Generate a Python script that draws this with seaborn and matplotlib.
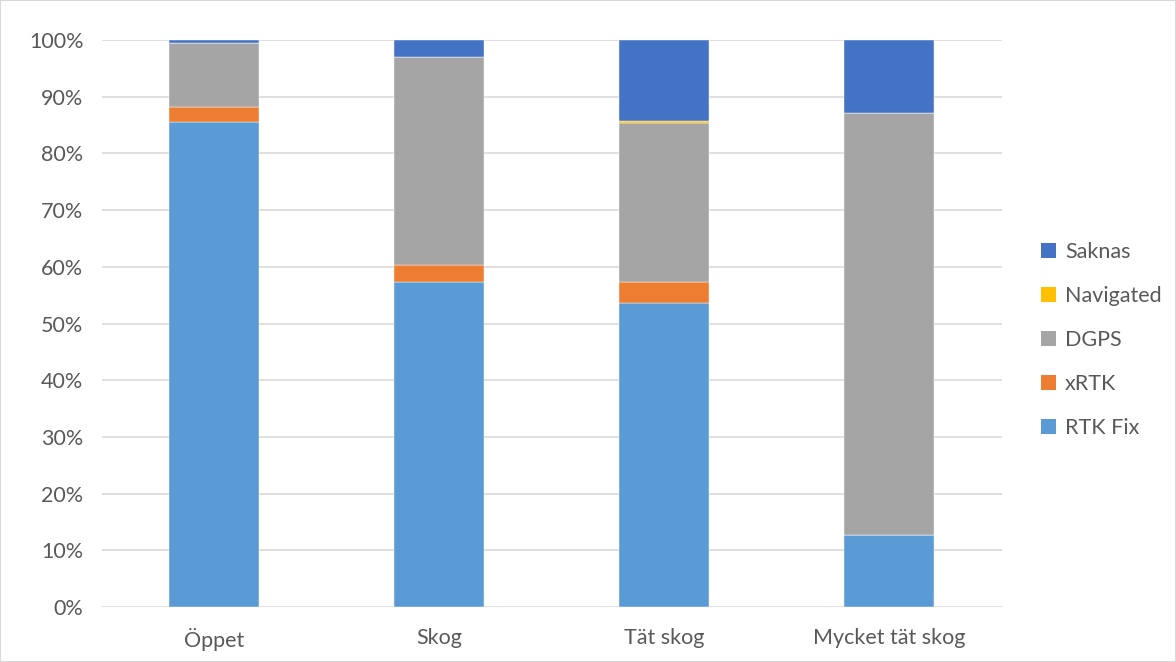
import numpy as np
import pandas as pd
import seaborn as sns
import matplotlib.pyplot as plt
from matplotlib.patches import Patch, Rectangle
from matplotlib.ticker import PercentFormatter

# andelar (%) per miljö
kategorier = ["Öppet", "Skog", "Tät skog", "Mycket tät skog"]
rtk_fix   = [85.5, 57.3, 53.6, 12.7]
xrtk      = [2.6, 3.1, 3.8, 0.0]
dgps      = [11.3, 36.6, 28.0, 74.5]
navigated = [0.1, 0.0, 0.4, 0.0]
saknas    = [0.5, 3.0, 14.2, 12.8]

serier = ["RTK Fix", "xRTK", "DGPS", "Navigated", "Saknas"]
farger = ["#5B9BD5", "#ED7D31", "#A5A5A5", "#FFC000", "#4472C4"]
data = [rtk_fix, xrtk, dgps, navigated, saknas]

sns.set_style("white")
plt.rcParams["font.family"] = ["Lato", "DejaVu Sans"]
TXT = "#595959"
FS = 15.5

fig = plt.figure(figsize=(11.76, 6.62), dpi=100)
ax = fig.add_axes([101.5 / 1176, 1 - 607 / 662, 900 / 1176, 567 / 662])

botten = np.zeros(len(kategorier))
for namn, farg, vals in zip(serier, farger, data):
    vals = np.asarray(vals, dtype=float)
    sns.barplot(x=kategorier, y=vals, bottom=botten, color=farg, width=0.4,
                ax=ax, edgecolor="white", linewidth=0.3, saturation=1)
    botten = botten + vals

ax.set_ylim(0, 100)
ax.set_xlim(-0.5, 3.5)
ax.set_yticks(np.arange(0, 101, 10))
ax.yaxis.set_major_formatter(PercentFormatter(decimals=0))
ax.grid(axis="y", color="#D9D9D9", linewidth=1.2)
ax.set_axisbelow(True)
for s in ax.spines.values():
    s.set_visible(False)
ax.tick_params(axis="both", length=0, labelsize=FS, labelcolor=TXT, pad=13)
ax.tick_params(axis="x", pad=15)
ax.set_xlabel("")
ax.set_ylabel("")

handles = [Patch(facecolor=f, edgecolor="none") for f in farger][::-1]
labels = serier[::-1]
fig.legend(handles, labels, loc="center left", bbox_to_anchor=(1022 / 1176, 1 - 340 / 662),
           frameon=False, fontsize=FS, labelcolor=TXT, handlelength=0.7, handleheight=0.7,
           handletextpad=0.4, labelspacing=1.12)

fig.patches.append(Rectangle((0, 0), 1, 1, transform=fig.transFigure, fill=False,
                             edgecolor="#D9D9D9", linewidth=1.5))

fig.savefig("out.png", dpi=100)
plt.close(fig)
